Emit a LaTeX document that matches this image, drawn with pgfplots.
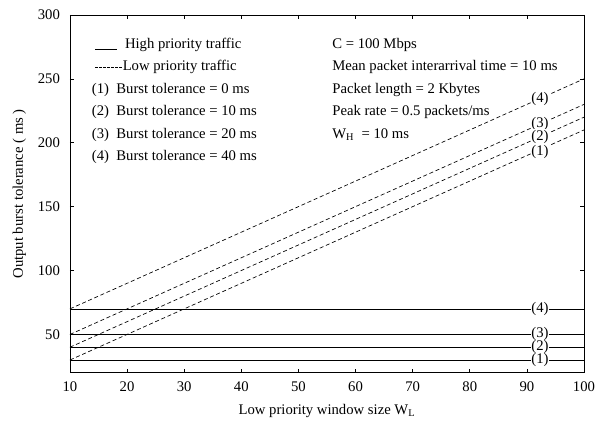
\documentclass[border=0pt]{standalone}
\usepackage{fontspec}
\setmainfont{Liberation Serif}
\usepackage{pgfplots}
\pgfplotsset{compat=1.18}

\begin{document}
\begin{tikzpicture}
\begin{axis}[scale only axis, width=385pt, height=268pt,
  xmin=10, xmax=100, ymin=20, ymax=300,
  xtick={10,20,...,100}, ytick={50,100,...,300},
  tick align=inside, major tick length=3pt,
  tick style={black, line width=0.4pt},
  axis line style={line width=0.5pt},
  /pgf/number format/assume math mode=true,
  tick label style={font=\fontsize{11}{13}\selectfont},
  yticklabel style={xshift=-4pt},
  xticklabel style={yshift=-3pt},
  label style={font=\fontsize{11}{13}\selectfont},
  xlabel={Low priority window size W\textsubscript{L}},
  ylabel={Output burst tolerance ( ms )},
  xlabel style={yshift=-3pt},
  ylabel style={yshift=2pt},
  every axis plot/.append style={black, line width=0.5pt, no marks},
  clip=false]
% low priority (dashed)
\addplot[dash pattern=on 3pt off 2pt] coordinates {(10,30)(100,210)};
\addplot[dash pattern=on 3pt off 2pt] coordinates {(10,40)(100,220)};
\addplot[dash pattern=on 3pt off 2pt] coordinates {(10,50)(100,230)};
\addplot[dash pattern=on 3pt off 2pt] coordinates {(10,70)(100,250)};
% high priority (solid)
\addplot[solid] coordinates {(10,30)(100,30)};
\addplot[solid] coordinates {(10,40)(100,40)};
\addplot[solid] coordinates {(10,50)(100,50)};
\addplot[solid] coordinates {(10,70)(100,70)};

% curve labels
\begin{scope}[every node/.style={fill=white, inner sep=0.6pt, font=\fontsize{11}{13}\selectfont}]
\node at (axis cs:92.3,234.6) {(4)};
\node at (axis cs:92.3,214.6) {(3)};
\node at (axis cs:92.3,204.6) {(2)};
\node at (axis cs:92.3,193.0) {(1)};
\node at (axis cs:92.3,70) {(4)};
\node at (axis cs:92.3,50) {(3)};
\node at (axis cs:92.3,40) {(2)};
\node at (axis cs:92.3,30) {(1)};
\end{scope}

% in-plot legend and parameters
\begin{scope}[every node/.style={anchor=west, inner sep=0pt, font=\fontsize{11}{13}\selectfont}]
\draw[line width=0.4pt] (axis cs:14.4,273.5) -- (axis cs:18.3,273.5);
\node at (axis cs:19.6,276.5) {High priority traffic};
\draw[line width=0.4pt, dash pattern=on 2pt off 1pt] (axis cs:14.4,259.3) -- (axis cs:19.2,259.3);
\node at (axis cs:19.2,259.3) {Low priority traffic};
\node at (axis cs:13.8,241.3) {(1)\ \ Burst tolerance = 0 ms};
\node at (axis cs:13.8,224.1) {(2)\ \ Burst tolerance = 10 ms};
\node at (axis cs:13.8,206.1) {(3)\ \ Burst tolerance = 20 ms};
\node at (axis cs:13.8,188.9) {(4)\ \ Burst tolerance = 40 ms};
\node at (axis cs:55.9,276.5) {C = 100 Mbps};
\node at (axis cs:55.9,259.3) {Mean packet interarrival time = 10 ms};
\node at (axis cs:55.9,241.3) {Packet length = 2 Kbytes};
\node at (axis cs:55.9,224.1) {Peak rate = 0.5 packets/ms};
\node at (axis cs:55.9,206.1) {W\textsubscript{H}\ \ = 10 ms};
\end{scope}
\end{axis}
% page margins as in the scan
\pgfresetboundingbox
\path ([shift={(-52.4pt,-36.7pt)}]current axis.south west)
  rectangle ([shift={(10.5pt,11.2pt)}]current axis.north east);
\end{tikzpicture}
\end{document}
